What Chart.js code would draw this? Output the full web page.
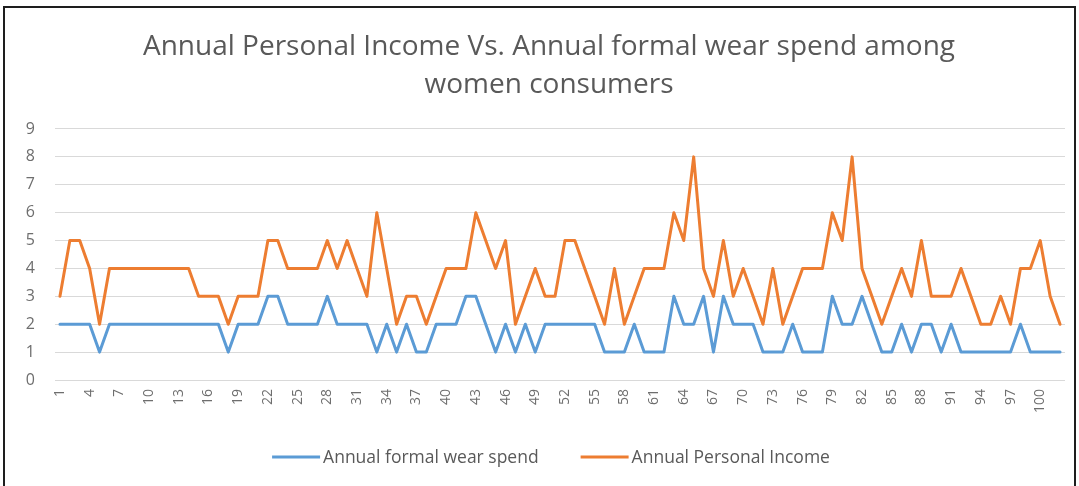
<!DOCTYPE html>
<html lang="en">

<head>
  <meta charset="UTF-8">
  <title>Annual Personal Income Vs. Annual formal wear spend</title>
  <script src="https://cdn.jsdelivr.net/npm/chart.js"></script>
  <style>
    html,
    body {
      margin: 0;
      padding: 0;
      background: #fff;
    }

    body {
      width: 1079px;
      height: 486px;
      overflow: hidden;
      position: relative;
    }

    .moldura {
      position: absolute;
      left: 3px;
      top: 6px;
      width: 1073px;
      height: 492px;
      border: 2px solid #1e1e1e;
      box-sizing: border-box;
      pointer-events: none;
    }

    .card {
      position: absolute;
      left: 5px;
      top: 8px;
      width: 1066px;
      height: 478px;
    }
  </style>
</head>

<body>
  <div class="card">
    <canvas id="lineChart"></canvas>
  </div>
  <div class="moldura"></div>

  <script>
    // respondents 1..102
    var respondentes = [];
    for (var n = 1; n <= 102; n++) {
      respondentes.push(String(n));
    }

    var gastoRoupaFormal = [
      2, 2, 2, 2, 1, 2, 2, 2, 2, 2,
      2, 2, 2, 2, 2, 2, 2, 1, 2, 2,
      2, 3, 3, 2, 2, 2, 2, 3, 2, 2,
      2, 2, 1, 2, 1, 2, 1, 1, 2, 2,
      2, 3, 3, 2, 1, 2, 1, 2, 1, 2,
      2, 2, 2, 2, 2, 1, 1, 1, 2, 1,
      1, 1, 3, 2, 2, 3, 1, 3, 2, 2,
      2, 1, 1, 1, 2, 1, 1, 1, 3, 2,
      2, 3, 2, 1, 1, 2, 1, 2, 2, 1,
      2, 1, 1, 1, 1, 1, 1, 2, 1, 1,
      1, 1
    ];

    var rendaPessoal = [
      3, 5, 5, 4, 2, 4, 4, 4, 4, 4,
      4, 4, 4, 4, 3, 3, 3, 2, 3, 3,
      3, 5, 5, 4, 4, 4, 4, 5, 4, 5,
      4, 3, 6, 4, 2, 3, 3, 2, 3, 4,
      4, 4, 6, 5, 4, 5, 2, 3, 4, 3,
      3, 5, 5, 4, 3, 2, 4, 2, 3, 4,
      4, 4, 6, 5, 8, 4, 3, 5, 3, 4,
      3, 2, 4, 2, 3, 4, 4, 4, 6, 5,
      8, 4, 3, 2, 3, 4, 3, 5, 3, 3,
      3, 4, 3, 2, 2, 3, 2, 4, 4, 5,
      3, 2
    ];

    var tituloGrafico = ['Annual Personal Income Vs. Annual formal wear spend among', 'women consumers'];
    var ticksY = [0, 1, 2, 3, 4, 5, 6, 7, 8, 9];

    var corCinza = '#595959';
    var corTicks = '#6e6e6e';
    var fonteBase = '"Open Sans", "Liberation Sans", sans-serif';

    // no excel o titulo fica um pouco a direita do centro do canvas
    var ajusteTitulo = {
      id: 'ajusteTitulo',
      afterLayout: function (chart) {
        if (chart.titleBlock) {
          chart.titleBlock.left += 28;
        }
      }
    };

    // legenda desenhada embaixo, como no excel
    var legendaInferior = {
      id: 'legendaInferior',
      afterDraw: function (chart) {
        var ctx = chart.ctx;
        var tamLinha = 48;
        var espaco = 3;
        var entreItens = 42;
        var centroX = 546;
        var y = 449;

        ctx.save();
        ctx.font = '17.5px ' + fonteBase;
        ctx.textBaseline = 'middle';
        ctx.textAlign = 'left';

        var larguras = chart.data.datasets.map(function (d) {
          return tamLinha + espaco + ctx.measureText(d.label).width;
        });
        var total = larguras.reduce(function (a, b) { return a + b; }, 0) + entreItens * (larguras.length - 1);
        var x = centroX - total / 2;

        chart.data.datasets.forEach(function (d, i) {
          ctx.strokeStyle = d.borderColor;
          ctx.lineWidth = 3;
          ctx.beginPath();
          ctx.moveTo(x, y);
          ctx.lineTo(x + tamLinha, y);
          ctx.stroke();
          ctx.fillStyle = corCinza;
          ctx.fillText(d.label, x + tamLinha + espaco, y + 1);
          x += larguras[i] + entreItens;
        });
        ctx.restore();
      }
    };

    var ctx = document.getElementById('lineChart').getContext('2d');
    var lineChart = new Chart(ctx, {
      type: 'line',
      data: {
        labels: respondentes,
        datasets: [
          {
            label: 'Annual formal wear spend',
            data: gastoRoupaFormal,
            borderColor: '#5b9bd5',
            backgroundColor: '#5b9bd5',
            borderWidth: 3,
            borderJoinStyle: 'round',
            borderCapStyle: 'round',
            pointRadius: 0,
            tension: 0
          },
          {
            label: 'Annual Personal Income',
            data: rendaPessoal,
            borderColor: '#ed7d31',
            backgroundColor: '#ed7d31',
            borderWidth: 3,
            borderJoinStyle: 'round',
            borderCapStyle: 'round',
            pointRadius: 0,
            tension: 0
          }
        ]
      },
      options: {
        responsive: true,
        maintainAspectRatio: false,
        animation: false,
        layout: {
          padding: { left: 0, right: 6, top: 0, bottom: 56 }
        },
        plugins: {
          legend: { display: false },
          tooltip: { enabled: false },
          title: {
            display: true,
            text: tituloGrafico,
            color: corCinza,
            font: { family: fonteBase, size: 28, weight: 'normal', lineHeight: 1.357 },
            padding: { top: 20, bottom: 25 }
          }
        },
        scales: {
          x: {
            offset: true,
            grid: { display: false, drawTicks: false },
            border: { display: false },
            ticks: {
              autoSkip: false,
              maxRotation: 90,
              minRotation: 90,
              padding: 9,
              color: corTicks,
              font: { family: fonteBase, size: 14 },
              callback: function (valor, indice) {
                return indice % 3 === 0 ? this.getLabelForValue(valor) : '';
              }
            },
            afterFit: function (escala) {
              escala.height = 50;
              escala.paddingLeft = 0;
              escala.paddingRight = 0;
            }
          },
          y: {
            min: 0,
            max: 9,
            grid: { color: '#d9d9d9', lineWidth: 1, drawTicks: false },
            border: { display: false },
            afterBuildTicks: function (escala) {
              escala.ticks = ticksY.map(function (v) { return { value: v }; });
            },
            ticks: {
              padding: 20,
              color: corTicks,
              font: { family: fonteBase, size: 16 }
            },
            afterFit: function (escala) {
              escala.width = 50;
            }
          }
        }
      },
      plugins: [ajusteTitulo, legendaInferior]
    });
  </script>

</body>

</html>
